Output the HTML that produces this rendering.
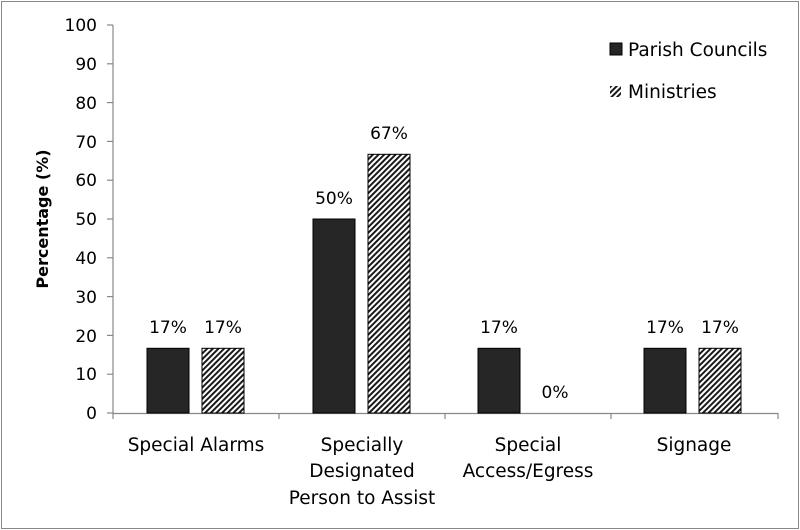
<!DOCTYPE html>
<html><head><meta charset="utf-8"><style>
html,body{margin:0;padding:0;background:#fff}
svg{display:block}
text{font-family:"DejaVu Sans","Liberation Sans",sans-serif;fill:#000}
</style></head><body>
<svg width="800" height="530" viewBox="0 0 800 530" xmlns="http://www.w3.org/2000/svg">
<defs>
<pattern id="h" patternUnits="userSpaceOnUse" width="4" height="4" patternTransform="rotate(45)">
<rect width="4" height="4" fill="#fff"/><rect width="2" height="4" fill="#1a1a1a"/>
</pattern>
</defs>
<rect x="1.5" y="1.5" width="797" height="527" fill="#fff" stroke="#888" stroke-width="1"/>
<g stroke="#888" stroke-width="1.2" fill="none">
<line x1="113" y1="25" x2="113" y2="413.5"/>
<line x1="113" y1="413.5" x2="778" y2="413.5"/>
<line x1="107" y1="25" x2="113" y2="25"/>
<line x1="107" y1="63.8" x2="113" y2="63.8"/>
<line x1="107" y1="102.6" x2="113" y2="102.6"/>
<line x1="107" y1="141.4" x2="113" y2="141.4"/>
<line x1="107" y1="180.2" x2="113" y2="180.2"/>
<line x1="107" y1="219" x2="113" y2="219"/>
<line x1="107" y1="257.8" x2="113" y2="257.8"/>
<line x1="107" y1="296.6" x2="113" y2="296.6"/>
<line x1="107" y1="335.4" x2="113" y2="335.4"/>
<line x1="107" y1="374.2" x2="113" y2="374.2"/>
<line x1="107" y1="413" x2="113" y2="413"/>
<line x1="113" y1="413" x2="113" y2="419"/>
<line x1="279" y1="413" x2="279" y2="419"/>
<line x1="445" y1="413" x2="445" y2="419"/>
<line x1="611" y1="413" x2="611" y2="419"/>
<line x1="778" y1="413" x2="778" y2="419"/>
</g>
<g font-size="17" text-anchor="end">
<text x="97" y="31">100</text><text x="97" y="70">90</text><text x="97" y="109">80</text>
<text x="97" y="148">70</text><text x="97" y="186">60</text><text x="97" y="225">50</text>
<text x="97" y="264">40</text><text x="97" y="303">30</text><text x="97" y="342">20</text>
<text x="97" y="380">10</text><text x="97" y="419">0</text>
</g>
<text x="48" y="219" font-size="16" font-weight="bold" text-anchor="middle" transform="rotate(-90 48 219)">Percentage (%)</text>
<g stroke="#000" stroke-width="1">
<rect x="147" y="348.3" width="42" height="64.7" fill="#262626"/>
<rect x="202" y="348.3" width="42" height="64.7" fill="url(#h)"/>
<rect x="313" y="219" width="42" height="194" fill="#262626"/>
<rect x="368" y="154.3" width="42" height="258.7" fill="url(#h)"/>
<rect x="478" y="348.3" width="42" height="64.7" fill="#262626"/>
<rect x="644" y="348.3" width="42" height="64.7" fill="#262626"/>
<rect x="699" y="348.3" width="42" height="64.7" fill="url(#h)"/>
</g>
<g font-size="17" text-anchor="middle">
<text x="168" y="333">17%</text><text x="223" y="333">17%</text>
<text x="334" y="204">50%</text><text x="389" y="139">67%</text>
<text x="499" y="333">17%</text><text x="555" y="398">0%</text>
<text x="665" y="333">17%</text><text x="720" y="333">17%</text>
</g>
<g font-size="18.5" text-anchor="middle">
<text x="196" y="451">Special Alarms</text>
<text x="362" y="451">Specially</text>
<text x="362" y="477">Designated</text>
<text x="362" y="504">Person to Assist</text>
<text x="528" y="451">Special</text>
<text x="528" y="477">Access/Egress</text>
<text x="694" y="451">Signage</text>
</g>
<rect x="610" y="43" width="12" height="12" fill="#262626" stroke="#000" stroke-width="1"/>
<text x="628" y="56" font-size="18.5">Parish Councils</text>
<rect x="610" y="86" width="11" height="11" fill="url(#h)"/>
<text x="628" y="98" font-size="18.5">Ministries</text>
</svg>
</body></html>
